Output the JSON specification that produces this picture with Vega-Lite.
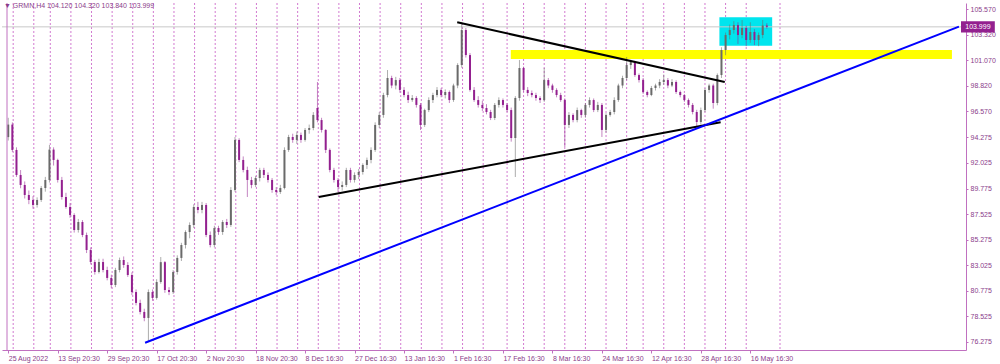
{
  "$schema": "https://vega.github.io/schema/vega-lite/v6.json",
  "width": 964,
  "height": 347,
  "autosize": {"type": "none"},
  "padding": {"left": 2, "top": 3, "right": 34, "bottom": 14},
  "background": "white",
  "config": {"view": {"stroke": null}, "font": "Liberation Sans",
    "axis": {"labelOverlap": false, "labelFlush": false}},
  "title": {"text": "▼ GRMN,H4  104.120 104.320 103.840 103.999", "anchor": "start", "frame": "group", "orient": "top", "offset": -6, "dx": 2, "fontSize": 7, "fontWeight": "normal", "color": "#8a3c8a", "font": "Liberation Sans"},
  "datasets": {
    "candles": [
      {"k":0,"o":94.3,"h":96.0,"l":94.0,"c":95.4},
      {"k":1,"o":95.4,"h":95.6,"l":93.0,"c":93.17},
      {"k":2,"o":93.17,"h":93.4,"l":90.8,"c":90.97},
      {"k":3,"o":90.97,"h":91.4,"l":89.8,"c":90.09},
      {"k":4,"o":90.09,"h":90.4,"l":88.9,"c":89.21},
      {"k":5,"o":89.21,"h":89.6,"l":88.4,"c":88.77},
      {"k":6,"o":88.77,"h":89.1,"l":88.0,"c":88.33},
      {"k":7,"o":88.33,"h":89.0,"l":88.1,"c":88.77},
      {"k":8,"o":88.77,"h":90.0,"l":88.6,"c":89.82},
      {"k":9,"o":89.82,"h":90.8,"l":89.5,"c":90.53},
      {"k":10,"o":90.53,"h":93.61,"l":90.3,"c":93.2},
      {"k":11,"o":93.2,"h":93.4,"l":91.8,"c":92.29},
      {"k":12,"o":92.29,"h":92.4,"l":90.3,"c":90.53},
      {"k":13,"o":90.53,"h":90.8,"l":88.8,"c":89.03},
      {"k":14,"o":89.03,"h":89.4,"l":88.0,"c":88.15},
      {"k":15,"o":88.15,"h":88.5,"l":87.2,"c":87.45},
      {"k":16,"o":87.45,"h":87.6,"l":85.9,"c":86.13},
      {"k":17,"o":86.13,"h":87.1,"l":85.9,"c":86.83},
      {"k":18,"o":86.83,"h":87.0,"l":85.5,"c":85.69},
      {"k":19,"o":85.69,"h":85.9,"l":84.1,"c":84.37},
      {"k":20,"o":84.37,"h":84.6,"l":83.1,"c":83.31},
      {"k":21,"o":83.31,"h":83.5,"l":82.2,"c":82.43},
      {"k":22,"o":82.43,"h":83.6,"l":82.3,"c":83.31},
      {"k":23,"o":83.31,"h":83.6,"l":82.4,"c":82.61},
      {"k":24,"o":82.61,"h":82.9,"l":81.7,"c":81.91},
      {"k":25,"o":81.91,"h":82.2,"l":81.0,"c":81.29},
      {"k":26,"o":81.29,"h":82.8,"l":81.1,"c":82.61},
      {"k":27,"o":82.61,"h":83.7,"l":82.4,"c":83.49},
      {"k":28,"o":83.49,"h":83.8,"l":82.8,"c":83.05},
      {"k":29,"o":83.05,"h":83.3,"l":82.0,"c":82.17},
      {"k":30,"o":82.17,"h":82.4,"l":80.4,"c":80.67},
      {"k":31,"o":80.67,"h":80.9,"l":79.5,"c":79.71},
      {"k":32,"o":79.71,"h":80.0,"l":78.7,"c":78.92},
      {"k":33,"o":78.92,"h":79.2,"l":78.1,"c":78.39},
      {"k":34,"o":78.39,"h":80.9,"l":76.3,"c":80.67},
      {"k":35,"o":80.67,"h":80.9,"l":79.9,"c":80.15},
      {"k":36,"o":80.15,"h":81.8,"l":80.0,"c":81.55},
      {"k":37,"o":81.55,"h":83.75,"l":81.4,"c":83.3},
      {"k":38,"o":83.3,"h":83.4,"l":80.6,"c":80.85},
      {"k":39,"o":80.85,"h":81.1,"l":80.4,"c":80.67},
      {"k":40,"o":80.67,"h":82.6,"l":80.5,"c":82.43},
      {"k":41,"o":82.43,"h":83.9,"l":82.2,"c":83.67},
      {"k":42,"o":83.67,"h":85.0,"l":83.4,"c":84.81},
      {"k":43,"o":84.81,"h":86.1,"l":84.5,"c":85.95},
      {"k":44,"o":85.95,"h":86.8,"l":85.4,"c":86.57},
      {"k":45,"o":86.57,"h":88.4,"l":86.3,"c":88.15},
      {"k":46,"o":88.15,"h":88.6,"l":87.6,"c":87.89},
      {"k":47,"o":87.89,"h":88.6,"l":87.6,"c":88.33},
      {"k":48,"o":88.33,"h":88.5,"l":85.5,"c":85.69},
      {"k":49,"o":85.69,"h":86.0,"l":84.6,"c":84.81},
      {"k":50,"o":84.81,"h":86.5,"l":84.6,"c":86.3},
      {"k":51,"o":86.3,"h":86.5,"l":85.7,"c":85.95},
      {"k":52,"o":85.95,"h":87.0,"l":85.7,"c":86.83},
      {"k":53,"o":86.83,"h":87.1,"l":86.3,"c":86.57},
      {"k":54,"o":86.57,"h":89.9,"l":86.4,"c":89.65},
      {"k":55,"o":89.65,"h":94.31,"l":89.5,"c":94.05},
      {"k":56,"o":94.05,"h":94.2,"l":92.1,"c":92.29},
      {"k":57,"o":92.29,"h":92.6,"l":91.2,"c":91.41},
      {"k":58,"o":91.41,"h":91.7,"l":89.03,"c":90.53},
      {"k":59,"o":90.53,"h":90.8,"l":89.8,"c":90.09},
      {"k":60,"o":90.09,"h":90.9,"l":89.9,"c":90.7},
      {"k":61,"o":90.7,"h":91.6,"l":90.4,"c":91.41},
      {"k":62,"o":91.41,"h":91.6,"l":90.7,"c":90.97},
      {"k":63,"o":90.97,"h":91.2,"l":90.3,"c":90.53},
      {"k":64,"o":90.53,"h":90.7,"l":89.4,"c":89.65},
      {"k":65,"o":89.65,"h":89.9,"l":89.2,"c":89.47},
      {"k":66,"o":89.47,"h":90.1,"l":89.3,"c":89.82},
      {"k":67,"o":89.82,"h":93.4,"l":89.7,"c":93.17},
      {"k":68,"o":93.17,"h":94.5,"l":93.0,"c":94.31},
      {"k":69,"o":94.31,"h":94.6,"l":93.8,"c":94.05},
      {"k":70,"o":94.05,"h":94.8,"l":93.7,"c":94.49},
      {"k":71,"o":94.49,"h":94.7,"l":93.8,"c":94.05},
      {"k":72,"o":94.05,"h":95.1,"l":93.9,"c":94.93},
      {"k":73,"o":94.93,"h":95.4,"l":94.6,"c":95.1},
      {"k":74,"o":95.1,"h":96.5,"l":94.9,"c":96.25},
      {"k":75,"o":96.86,"h":99.15,"l":95.6,"c":95.8},
      {"k":76,"o":95.8,"h":96.0,"l":94.7,"c":94.93},
      {"k":77,"o":94.93,"h":95.0,"l":92.9,"c":93.17},
      {"k":78,"o":93.17,"h":93.3,"l":91.2,"c":91.41},
      {"k":79,"o":91.41,"h":91.6,"l":90.3,"c":90.53},
      {"k":80,"o":90.53,"h":90.7,"l":89.47,"c":89.91},
      {"k":81,"o":89.91,"h":90.4,"l":89.6,"c":90.09},
      {"k":82,"o":90.09,"h":91.6,"l":89.9,"c":91.41},
      {"k":83,"o":91.41,"h":91.6,"l":90.3,"c":90.53},
      {"k":84,"o":90.53,"h":91.2,"l":90.3,"c":90.97},
      {"k":85,"o":90.97,"h":91.5,"l":90.6,"c":91.23},
      {"k":86,"o":91.23,"h":92.0,"l":91.0,"c":91.85},
      {"k":87,"o":91.85,"h":92.5,"l":91.5,"c":92.29},
      {"k":88,"o":92.29,"h":93.4,"l":92.0,"c":93.17},
      {"k":89,"o":93.17,"h":95.6,"l":93.0,"c":95.37},
      {"k":90,"o":95.37,"h":96.5,"l":95.1,"c":96.25},
      {"k":91,"o":96.25,"h":98.2,"l":96.0,"c":98.0},
      {"k":92,"o":98.0,"h":100.2,"l":97.8,"c":99.5},
      {"k":93,"o":99.5,"h":99.7,"l":98.6,"c":98.84},
      {"k":94,"o":98.84,"h":99.6,"l":98.5,"c":99.32},
      {"k":95,"o":99.32,"h":99.5,"l":98.2,"c":98.45},
      {"k":96,"o":98.45,"h":98.7,"l":97.8,"c":98.0},
      {"k":97,"o":98.0,"h":98.3,"l":97.3,"c":97.56},
      {"k":98,"o":97.56,"h":98.0,"l":97.4,"c":97.74},
      {"k":99,"o":97.74,"h":97.9,"l":96.9,"c":97.13},
      {"k":100,"o":97.13,"h":97.3,"l":94.93,"c":95.37},
      {"k":101,"o":95.37,"h":96.8,"l":95.2,"c":96.68},
      {"k":102,"o":96.68,"h":97.8,"l":96.5,"c":97.56},
      {"k":103,"o":97.56,"h":98.2,"l":97.3,"c":98.0},
      {"k":104,"o":98.0,"h":98.7,"l":97.8,"c":98.45},
      {"k":105,"o":98.45,"h":98.6,"l":97.8,"c":98.0},
      {"k":106,"o":98.0,"h":98.5,"l":97.7,"c":98.27},
      {"k":107,"o":98.27,"h":98.4,"l":97.3,"c":97.56},
      {"k":108,"o":97.56,"h":99.0,"l":97.4,"c":98.84},
      {"k":109,"o":98.84,"h":100.8,"l":98.6,"c":100.64},
      {"k":110,"o":100.64,"h":104.43,"l":100.4,"c":103.72},
      {"k":111,"o":103.72,"h":103.9,"l":101.3,"c":101.52},
      {"k":112,"o":101.52,"h":101.7,"l":98.3,"c":98.45},
      {"k":113,"o":98.45,"h":98.7,"l":97.4,"c":97.56},
      {"k":114,"o":97.56,"h":97.9,"l":96.9,"c":97.13},
      {"k":115,"o":97.13,"h":97.5,"l":96.6,"c":96.86},
      {"k":116,"o":96.86,"h":97.2,"l":96.3,"c":96.51},
      {"k":117,"o":96.51,"h":96.7,"l":95.8,"c":95.98},
      {"k":118,"o":95.98,"h":97.3,"l":95.8,"c":97.13},
      {"k":119,"o":97.13,"h":97.8,"l":96.9,"c":97.56},
      {"k":120,"o":97.56,"h":97.7,"l":96.9,"c":97.13},
      {"k":121,"o":97.13,"h":97.3,"l":96.5,"c":96.68},
      {"k":122,"o":96.68,"h":96.9,"l":93.9,"c":94.22},
      {"k":123,"o":94.22,"h":97.9,"l":90.79,"c":97.74},
      {"k":124,"o":97.74,"h":101.08,"l":97.5,"c":100.38},
      {"k":125,"o":100.38,"h":100.5,"l":98.3,"c":98.45},
      {"k":126,"o":98.45,"h":98.7,"l":97.9,"c":98.18},
      {"k":127,"o":98.18,"h":98.4,"l":97.8,"c":98.0},
      {"k":128,"o":98.0,"h":98.2,"l":97.5,"c":97.74},
      {"k":129,"o":97.74,"h":97.9,"l":97.3,"c":97.56},
      {"k":130,"o":97.56,"h":100.38,"l":97.4,"c":99.32},
      {"k":131,"o":99.32,"h":99.5,"l":98.6,"c":98.84},
      {"k":132,"o":98.84,"h":99.0,"l":98.2,"c":98.45},
      {"k":133,"o":98.45,"h":98.6,"l":97.8,"c":98.0},
      {"k":134,"o":98.0,"h":98.2,"l":97.4,"c":97.56},
      {"k":135,"o":97.56,"h":97.7,"l":93.43,"c":95.37},
      {"k":136,"o":95.37,"h":96.5,"l":95.1,"c":96.25},
      {"k":137,"o":96.25,"h":96.4,"l":95.6,"c":95.8},
      {"k":138,"o":95.8,"h":96.9,"l":95.6,"c":96.68},
      {"k":139,"o":96.68,"h":96.8,"l":96.0,"c":96.25},
      {"k":140,"o":96.25,"h":97.3,"l":96.0,"c":97.13},
      {"k":141,"o":97.13,"h":97.8,"l":96.9,"c":97.56},
      {"k":142,"o":97.56,"h":97.7,"l":96.5,"c":96.68},
      {"k":143,"o":96.68,"h":97.4,"l":96.5,"c":97.13},
      {"k":144,"o":97.13,"h":97.3,"l":94.31,"c":94.93},
      {"k":145,"o":94.93,"h":96.4,"l":94.7,"c":96.25},
      {"k":146,"o":96.25,"h":96.7,"l":96.1,"c":96.51},
      {"k":147,"o":96.51,"h":97.8,"l":96.3,"c":97.56},
      {"k":148,"o":97.56,"h":99.0,"l":97.4,"c":98.84},
      {"k":149,"o":98.84,"h":99.7,"l":98.6,"c":99.5},
      {"k":150,"o":99.5,"h":101.35,"l":99.3,"c":100.64},
      {"k":151,"o":100.64,"h":101.1,"l":100.3,"c":100.9},
      {"k":152,"o":100.9,"h":101.0,"l":99.6,"c":99.76},
      {"k":153,"o":99.76,"h":99.9,"l":99.1,"c":99.32},
      {"k":154,"o":99.32,"h":99.5,"l":98.1,"c":98.27},
      {"k":155,"o":98.27,"h":98.4,"l":97.8,"c":98.0},
      {"k":156,"o":98.0,"h":98.8,"l":97.9,"c":98.62},
      {"k":157,"o":98.62,"h":99.0,"l":98.4,"c":98.84},
      {"k":158,"o":98.84,"h":99.4,"l":98.6,"c":99.15},
      {"k":159,"o":99.15,"h":99.8,"l":98.9,"c":99.32},
      {"k":160,"o":99.32,"h":99.5,"l":98.6,"c":98.84},
      {"k":161,"o":98.84,"h":99.4,"l":98.7,"c":99.15},
      {"k":162,"o":99.15,"h":99.3,"l":98.1,"c":98.27},
      {"k":163,"o":98.27,"h":98.4,"l":97.8,"c":98.0},
      {"k":164,"o":98.0,"h":98.1,"l":97.4,"c":97.56},
      {"k":165,"o":97.56,"h":97.7,"l":96.9,"c":97.13},
      {"k":166,"o":97.13,"h":97.3,"l":96.3,"c":96.51},
      {"k":167,"o":96.51,"h":96.7,"l":95.19,"c":95.63},
      {"k":168,"o":95.63,"h":96.9,"l":95.4,"c":96.68},
      {"k":169,"o":96.68,"h":98.6,"l":96.5,"c":98.45},
      {"k":170,"o":98.45,"h":99.0,"l":98.2,"c":98.84},
      {"k":171,"o":98.84,"h":99.0,"l":96.8,"c":97.3},
      {"k":172,"o":97.3,"h":99.9,"l":97.1,"c":99.76},
      {"k":173,"o":99.76,"h":102.2,"l":99.5,"c":101.96},
      {"k":174,"o":101.96,"h":103.5,"l":101.5,"c":103.28},
      {"k":175,"o":103.28,"h":104.2,"l":102.9,"c":103.72},
      {"k":176,"o":103.72,"h":104.5,"l":103.4,"c":104.16},
      {"k":177,"o":104.16,"h":104.4,"l":102.5,"c":103.28},
      {"k":178,"o":103.28,"h":104.6,"l":103.0,"c":103.9},
      {"k":179,"o":103.9,"h":104.1,"l":102.3,"c":102.84},
      {"k":180,"o":102.84,"h":104.4,"l":102.6,"c":103.55},
      {"k":181,"o":103.55,"h":103.8,"l":102.4,"c":102.84},
      {"k":182,"o":102.84,"h":103.5,"l":102.3,"c":103.28},
      {"k":183,"o":103.28,"h":104.6,"l":103.0,"c":104.12},
      {"k":184,"o":104.12,"h":104.32,"l":103.84,"c":103.999}
    ],
    "seps": [
      {"k":1.2},{"k":6.2},{"k":10.2},{"k":15.2},{"k":20.2},{"k":25.2},{"k":30.2},{"k":35.2},{"k":40.2},{"k":45.2},
      {"k":50.2},{"k":55.2},{"k":60.2},{"k":65.2},{"k":70.2},{"k":75.2},{"k":80.2},{"k":85.2},{"k":90.2},{"k":95.2},
      {"k":100.2},{"k":105.2},{"k":110.2},{"k":115.2},{"k":121},{"k":125},{"k":130},{"k":135},{"k":140},{"k":145},
      {"k":150},{"k":154},{"k":159},{"k":164},{"k":169},{"k":174},{"k":179},{"k":187.2}
    ],
    "zones": [
      {"zone":"resistance","k1":121.9,"k2":228.9,"v1":101.17,"v2":101.96},
      {"zone":"range","k1":172.5,"k2":185.3,"v1":102.34,"v2":104.84}
    ],
    "trend": [
      {"seg":"upper","k":108.9,"v":104.4},
      {"seg":"upper","k":173.8,"v":99.15},
      {"seg":"lower","k":75.3,"v":89.03},
      {"seg":"lower","k":172.8,"v":95.6},
      {"seg":"support","k":33.2,"v":76.21},
      {"seg":"support","k":230.6,"v":104.02}
    ],
    "last": [
      {"price":103.999,"label":"103.999","k1":231.1,"k2":239.3,"kt":235.2,"top":104.5,"bottom":103.5}
    ]
  },
  "layer": [
    {
      "data": {"name": "seps"},
      "mark": {"type": "rule", "color": "#d27ad0", "strokeDash": [2, 2], "strokeWidth": 1},
      "encoding": {
        "x": {"field": "k", "type": "quantitative", "scale": {"domain": [-0.3, 231.1], "nice": false, "zero": false},
          "axis": {"orient": "bottom", "values": [0,12,24,36,48,60,72,84,96,108,120,132,144,156,168,180], "tickCount": 40,
            "labelExpr": "['25 Aug 2022','13 Sep 20:30','29 Sep 20:30','17 Oct 20:30','2 Nov 20:30','18 Nov 20:30','8 Dec 16:30','27 Dec 16:30','13 Jan 16:30','1 Feb 16:30','17 Feb 16:30','8 Mar 16:30','24 Mar 16:30','12 Apr 16:30','28 Apr 16:30','16 May 16:30'][round(datum.value/12)]",
            "labelAlign": "left", "labelBaseline": "top", "labelPadding": 1, "labelFontSize": 7, "labelColor": "#8a3c8a", "labelFont": "Liberation Sans",
            "tickSize": 3, "tickColor": "#c070c0", "domainColor": "#c070c0", "grid": false, "title": null, "labelOverlap": false, "labelFlush": false}}
      }
    },
    {
      "data": {"name": "zones"},
      "mark": {"type": "rect"},
      "encoding": {
        "x": {"field": "k1", "type": "quantitative"},
        "x2": {"field": "k2"},
        "y": {"field": "v1", "type": "quantitative",
          "scale": {"domain": [75.571, 106.098], "nice": false, "zero": false},
          "axis": {"orient": "right", "values": [76.275,78.525,80.775,83.025,85.275,87.525,89.775,92.025,94.275,96.57,98.82,101.07,103.32,105.57], "tickCount": 30,
            "format": ".3f", "labelFontSize": 7, "labelColor": "#8a3c8a", "labelFont": "Liberation Sans", "labelPadding": 2,
            "tickSize": 2, "tickColor": "#c070c0", "domainColor": "#c070c0", "grid": false, "title": null, "labelOverlap": false, "labelFlush": false}},
        "y2": {"field": "v2"},
        "color": {"condition": {"test": "datum.zone == 'range'", "value": "#00e5ee"}, "value": "#ffff00"}
      }
    },
    {
      "data": {"name": "last"},
      "mark": {"type": "rule", "color": "#c8c8c8", "strokeWidth": 1},
      "encoding": {"y": {"field": "price", "type": "quantitative"}}
    },
    {
      "data": {"name": "candles"},
      "mark": {"type": "rule", "strokeWidth": 1, "opacity": 0.55},
      "encoding": {
        "x": {"field": "k", "type": "quantitative"},
        "y": {"field": "l", "type": "quantitative"},
        "y2": {"field": "h"},
        "color": {"condition": {"test": "datum.c >= datum.o", "value": "#6a6a6a"}, "value": "#93208f"}
      }
    },
    {
      "data": {"name": "candles"},
      "mark": {"type": "bar", "width": 2},
      "encoding": {
        "x": {"field": "k", "type": "quantitative"},
        "y": {"field": "o", "type": "quantitative"},
        "y2": {"field": "c"},
        "color": {"condition": {"test": "datum.c >= datum.o", "value": "#6a6a6a"}, "value": "#93208f"}
      }
    },
    {
      "data": {"name": "trend"},
      "transform": [{"filter": "datum.seg != 'support'"}],
      "mark": {"type": "line", "strokeWidth": 2, "color": "#000000"},
      "encoding": {
        "x": {"field": "k", "type": "quantitative"},
        "y": {"field": "v", "type": "quantitative"},
        "detail": {"field": "seg"}
      }
    },
    {
      "data": {"name": "trend"},
      "transform": [{"filter": "datum.seg == 'support'"}],
      "mark": {"type": "line", "strokeWidth": 2, "color": "#0000ff"},
      "encoding": {
        "x": {"field": "k", "type": "quantitative"},
        "y": {"field": "v", "type": "quantitative"}
      }
    },
    {
      "data": {"name": "last"},
      "mark": {"type": "rule", "color": "#c070c0", "strokeWidth": 1},
      "encoding": {"x": {"datum": -0.3}}
    },
    {
      "data": {"name": "last"},
      "mark": {"type": "rect", "color": "#93208f"},
      "encoding": {
        "x": {"field": "k1", "type": "quantitative"},
        "x2": {"field": "k2"},
        "y": {"field": "top", "type": "quantitative"},
        "y2": {"field": "bottom"}
      }
    },
    {
      "data": {"name": "last"},
      "mark": {"type": "text", "color": "white", "fontSize": 7, "font": "Liberation Sans", "align": "center", "baseline": "middle"},
      "encoding": {
        "x": {"field": "kt", "type": "quantitative"},
        "y": {"field": "price", "type": "quantitative"},
        "text": {"field": "label"}
      }
    }
  ]
}
